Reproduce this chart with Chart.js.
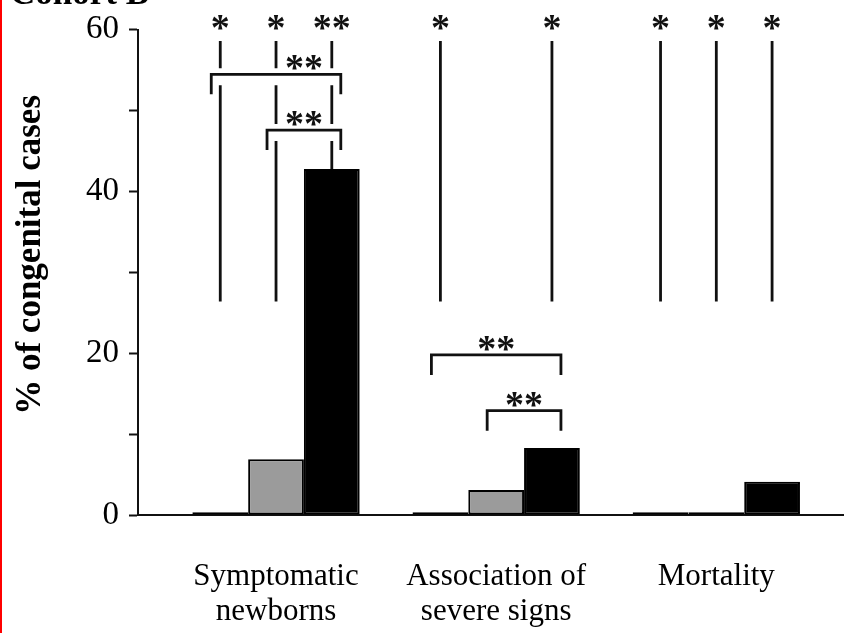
<!DOCTYPE html>
<html><head><meta charset="utf-8">
<script src="https://cdn.jsdelivr.net/npm/chart.js@4"></script>
<style>
html,body{margin:0;padding:0;background:#fff;}
#wrap{position:relative;width:844px;height:633px;overflow:hidden;background:#fff;}
#edge{position:absolute;left:0;top:0;width:2px;height:633px;background:#ff0000;}
</style></head><body>
<div id="wrap"><canvas id="c"></canvas><div id="edge"></div></div>
<script>
// ---- data ----
const categories = [['Symptomatic','newborns'],['Association of','severe signs'],['Mortality']];
const seriesWhite = [0.35, 0.35, 0.35];
const seriesGray  = [6.9, 3.1, 0.35];
const seriesBlack = [42.8, 8.3, 4.1];
const yTickValues = [0, 10, 20, 30, 40, 50, 60];
const yTickLabels = ['0', '', '20', '', '40', '', '60'];
const panelTitle = 'Cohort B';
const yTitle = '% of congenital cases';
// significance marks: stars over vertical lines (group x bar; '' = none)
const topStars = [['*','*','**'], ['*','','*'], ['*','*','*']];
const sigLineTop = 58.6, sigLineBottom = 26.4, topStarLevel = 60.9;
// brackets
const bracketGroup = [0, 0, 1, 1];
const bracketFrom = [0, 1, 0, 1];
const bracketTo = [2, 2, 2, 2];
const bracketLabelFrom = [1, 1, 0, 1];
const bracketLevel = [54.5, 47.6, 19.8, 12.9];
const bracketText = ['**', '**', '**', '**'];

const SERIF = "'Liberation Serif', 'Times New Roman', serif";
const seriesAll = [seriesWhite, seriesGray, seriesBlack];

const sigPlugin = {
  id: 'sig',
  afterDatasetsDraw(chart) {
    const ctx = chart.ctx, y = chart.scales.y;
    const metas = [0,1,2].map(i => chart.getDatasetMeta(i));
    const barX = (g, b) => metas[b].data[g].x;
    const starSize = 38, starStep = 19;
    const drawStars = (s, x, cy) => {
      ctx.font = 'bold ' + starSize + 'px ' + SERIF;
      ctx.textAlign = 'center';
      ctx.textBaseline = 'alphabetic';
      const n = s.length;
      for (let i = 0; i < n; i++) {
        ctx.fillText(s[i], x + (i - (n - 1) / 2) * starStep, cy + 0.47 * starSize);
      }
    };
    ctx.save();
    ctx.strokeStyle = '#111'; ctx.fillStyle = '#111';
    ctx.lineWidth = 2.8; ctx.lineCap = 'butt'; ctx.lineJoin = 'miter';
    const legLen = 20, gapAbove = 6, gapBelow = 11, pad = 9;
    topStars.forEach((row, g) => row.forEach((s, b) => {
      if (!s) return;
      const x = barX(g, b);
      const top = y.getPixelForValue(sigLineTop);
      const bottom = y.getPixelForValue(Math.max(sigLineBottom, seriesAll[b][g]));
      const gaps = [];
      bracketGroup.forEach((bg, k) => {
        if (bg === g && b >= bracketFrom[k] && b <= bracketTo[k]) {
          const py = y.getPixelForValue(bracketLevel[k]);
          if (py > top && py < bottom) gaps.push([py - gapAbove, py + gapBelow]);
        }
      });
      gaps.sort((a, c) => a[0] - c[0]);
      let cur = top;
      ctx.beginPath();
      gaps.forEach(([a, c]) => { ctx.moveTo(x, cur); ctx.lineTo(x, a); cur = c; });
      ctx.moveTo(x, cur); ctx.lineTo(x, bottom);
      ctx.stroke();
      drawStars(s, x, y.getPixelForValue(topStarLevel));
    }));
    bracketGroup.forEach((g, k) => {
      const x1 = barX(g, bracketFrom[k]) - pad, x2 = barX(g, bracketTo[k]) + pad;
      const py = y.getPixelForValue(bracketLevel[k]);
      ctx.beginPath();
      ctx.moveTo(x1, py + legLen); ctx.lineTo(x1, py); ctx.lineTo(x2, py); ctx.lineTo(x2, py + legLen);
      ctx.stroke();
      const lx = (barX(g, bracketLabelFrom[k]) + barX(g, bracketTo[k])) / 2;
      drawStars(bracketText[k], lx, py - 12);
    });
    // cropped panel title at the very top
    ctx.font = 'bold 35px ' + SERIF;
    ctx.textAlign = 'left'; ctx.textBaseline = 'alphabetic';
    ctx.fillStyle = '#000';
    ctx.fillText(panelTitle, 10, 4);
    ctx.restore();
  }
};

const mk = (arr) => arr.map((v, i) => ({x: i, y: v}));

new Chart(document.getElementById('c'), {
  type: 'bar',
  data: {
    datasets: [
      {label: 'white', data: mk(seriesWhite), backgroundColor: '#ffffff', borderColor: '#000', borderWidth: 2},
      {label: 'gray', data: mk(seriesGray), backgroundColor: '#9b9b9b', borderColor: '#000', borderWidth: 2},
      {label: 'black', data: mk(seriesBlack), backgroundColor: '#000000', borderColor: '#000', borderWidth: 2}
    ]
  },
  options: {
    responsive: true, maintainAspectRatio: false, animation: false, devicePixelRatio: 1,
    layout: {padding: {top: 27, left: 0, right: 0, bottom: 0}},
    plugins: {legend: {display: false}, tooltip: {enabled: false}},
    datasets: {bar: {categoryPercentage: 0.76, barPercentage: 1, grouped: true, borderSkipped: false}},
    scales: {
      x: {
        type: 'linear', min: -0.627, max: 2.58, offset: false,
        afterBuildTicks: s => { s.ticks = categories.map((c, i) => ({value: i})); },
        afterFit: s => { s.height = 118; },
        grid: {display: false, drawTicks: false},
        border: {display: true, color: '#111', width: 2},
        ticks: {
          callback: v => categories[v], color: '#000', maxRotation: 0, autoSkip: false,
          font: {family: SERIF, size: 31, lineHeight: 1.13}, padding: 44
        }
      },
      y: {
        min: 0, max: 60,
        afterBuildTicks: s => { s.ticks = yTickValues.map(v => ({value: v})); },
        afterFit: s => { s.width = 138; },
        grid: {drawOnChartArea: false, drawTicks: true, tickLength: 9, tickColor: '#111', tickWidth: 2},
        border: {display: true, color: '#111', width: 2},
        ticks: {
          callback: v => yTickLabels[yTickValues.indexOf(v)], color: '#000',
          font: {family: SERIF, size: 33}, padding: 10
        },
        title: {
          display: true, text: '    ' + yTitle, color: '#000',
          font: {family: SERIF, size: 35, weight: 'bold', lineHeight: 1},
          padding: {top: 13, bottom: 0}
        }
      }
    }
  },
  plugins: [sigPlugin]
});
</script>
</body></html>
